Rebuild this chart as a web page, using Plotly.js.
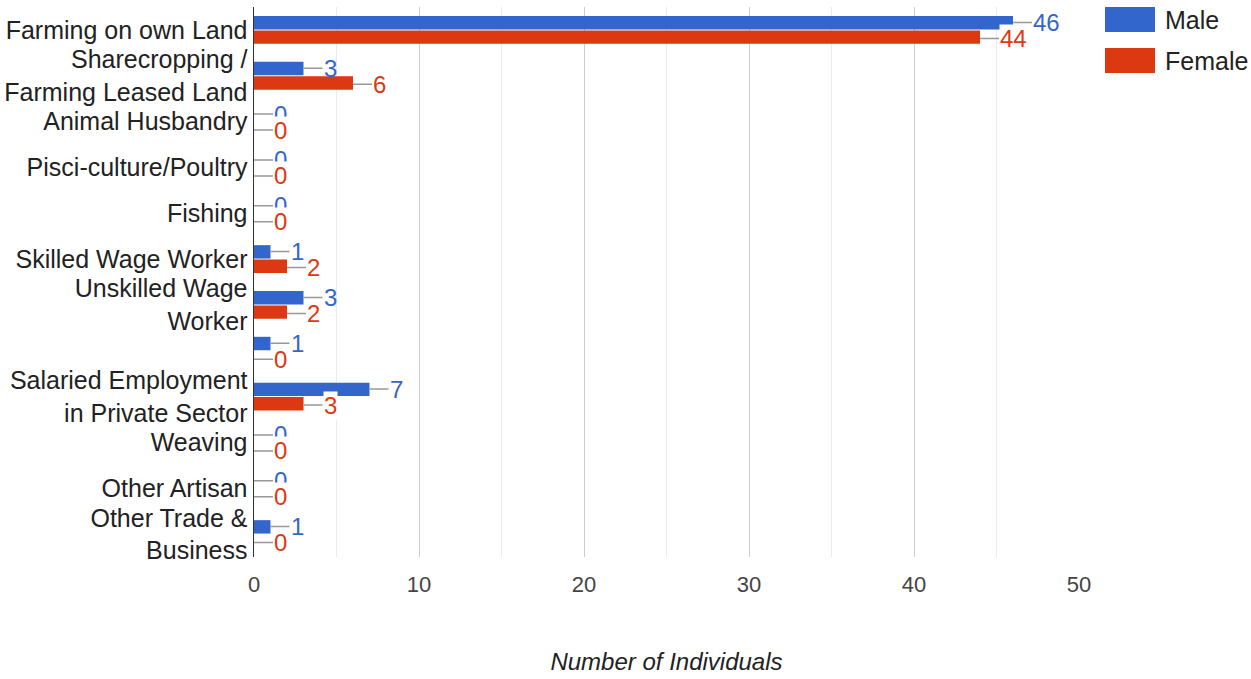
<!DOCTYPE html>
<html>
<head>
<meta charset="utf-8">
<script src="https://cdn.plot.ly/plotly-3.0.1.min.js"></script>
<style>html,body{margin:0;padding:0;background:#fff;}#chart{width:1251px;height:679px;}</style>
</head>
<body>
<div id="chart"></div>
<script>
// ---- data ----
var categories = [
  "Farming on own Land",
  "Sharecropping /<br>Farming Leased Land",
  "Animal Husbandry",
  "Pisci-culture/Poultry",
  "Fishing",
  "Skilled Wage Worker",
  "Unskilled Wage<br>Worker",
  "",
  "Salaried Employment<br>in Private Sector",
  "Weaving",
  "Other Artisan",
  "Other Trade &<br>Business"
];
var maleValues   = [46, 3, 0, 0, 0, 1, 3, 1, 7, 0, 0, 1];
var femaleValues = [44, 6, 0, 0, 0, 2, 2, 0, 3, 0, 0, 0];
var seriesNames  = ["Male", "Female"];
var seriesColors = ["#3366cc", "#dc3912"];
var xTickValues  = [0, 10, 20, 30, 40, 50];
var xTitle = "Number of Individuals";

var FONT = "Arial, 'Liberation Sans', sans-serif";
var positions = categories.map(function(_, i){ return i; });
var seriesValues = [maleValues, femaleValues];

var traces = seriesValues.map(function(vals, s){
  return {
    type: "bar", orientation: "h",
    name: seriesNames[s],
    x: vals, y: positions,
    marker: {color: seriesColors[s]},
    showlegend: false,
    hoverinfo: "x+name"
  };
});

var annotations = [];
var yShifts = [7.5, -8.5];
seriesValues.forEach(function(vals, s){
  vals.forEach(function(v, i){
    var a = {
      x: v, y: i, xref: "x", yref: "y",
      text: String(v),
      showarrow: true, arrowhead: 0, arrowwidth: 1.5, arrowcolor: "#999999",
      ax: 19, ay: 0, standoff: 0, startstandoff: 0,
      xanchor: "left", yanchor: "middle",
      yshift: yShifts[s],
      borderpad: 0,
      font: {family: FONT, size: 24, color: seriesColors[s]}
    };
    if (s === 1) a.bgcolor = "#ffffff";
    annotations.push(a);
  });
});

// custom legend
var shapes = [];
var legendTops = [0, -41];
seriesNames.forEach(function(n, s){
  shapes.push({
    type: "rect", xref: "paper", yref: "paper",
    xsizemode: "pixel", ysizemode: "pixel",
    xanchor: 1, yanchor: 1,
    x0: 26, x1: 76, y0: legendTops[s], y1: legendTops[s] - 25,
    fillcolor: seriesColors[s], line: {width: 0}
  });
  annotations.push({
    x: 1, y: 1, xref: "paper", yref: "paper",
    xanchor: "left", yanchor: "middle",
    xshift: 84, yshift: legendTops[s] - 12.5,
    showarrow: false, text: n,
    font: {family: FONT, size: 25, color: "#222222"}
  });
});

var layout = {
  width: 1251, height: 679,
  margin: {l: 254, r: 172, t: 7, b: 122, pad: 0},
  paper_bgcolor: "#ffffff", plot_bgcolor: "#ffffff",
  font: {family: FONT, color: "#222222"},
  barmode: "group",
  bargap: 0.37, bargroupgap: 0.07,
  xaxis: {
    range: [0, 50], tickvals: xTickValues,
    showgrid: true, gridcolor: "#cccccc", gridwidth: 1,
    minor: {dtick: 5, tick0: 0, showgrid: true, gridcolor: "#ebebeb", gridwidth: 1},
    zeroline: false, showline: false, ticks: "",
    tickfont: {family: FONT, size: 22, color: "#444444"},
    ticklabelstandoff: 12,
    automargin: false,
    title: {text: xTitle, standoff: 57, font: {family: FONT, size: 24, color: "#222222", style: "italic"}}
  },
  yaxis: {
    range: [11.5, -0.5],
    tickvals: positions, ticktext: categories,
    showgrid: false, zeroline: false,
    showline: true, linecolor: "#333333", linewidth: 1.5,
    ticks: "", ticklabelstandoff: 0,
    tickfont: {family: FONT, size: 25, color: "#222222"},
    automargin: false
  },
  annotations: annotations,
  shapes: shapes,
  showlegend: false
};

Plotly.newPlot("chart", traces, layout, {displayModeBar: false, staticPlot: true});
</script>
</body>
</html>
